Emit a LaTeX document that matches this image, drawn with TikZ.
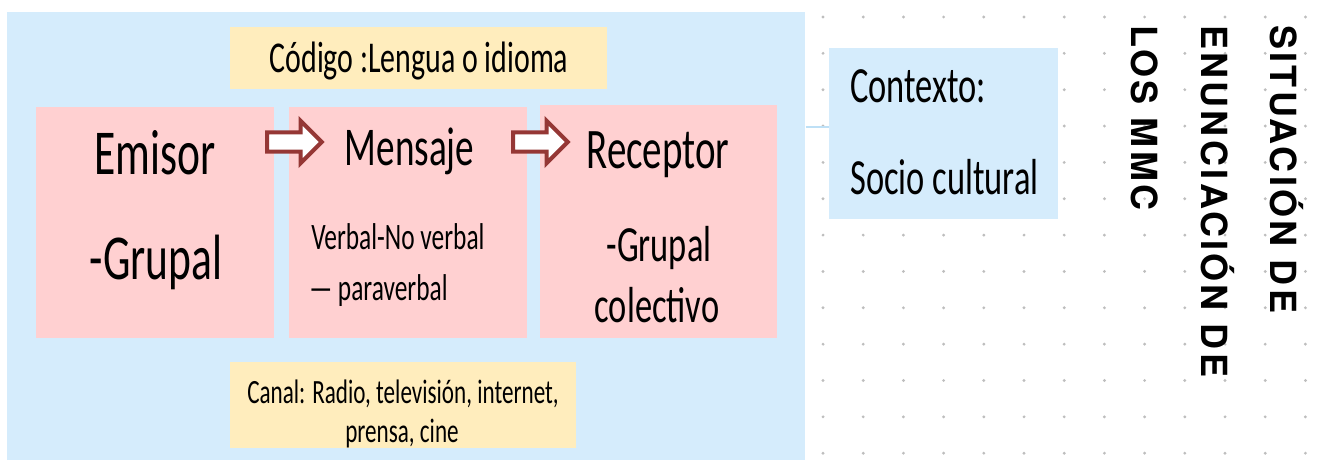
\documentclass[tikz,border=0pt]{standalone}
\usepackage{fontspec}
\setmainfont{Carlito}[FakeStretch=0.68]
\newfontfamily\titlefont{TeX Gyre Heros}[LetterSpace=9]
\usetikzlibrary{shapes.arrows,calc}

\begin{document}
\begin{tikzpicture}[x=0.75pt,y=-0.75pt]

	\definecolor{skyblue}{RGB}{213,236,252}
	\definecolor{rosebox}{RGB}{255,208,209}
	\definecolor{creambox}{RGB}{255,237,189}
	\definecolor{arrowred}{RGB}{149,55,53}
	\definecolor{dotgray}{RGB}{190,190,190}
	\definecolor{linkblue}{RGB}{190,224,246}

	\useasboundingbox (0,0) rectangle (1318,460);

	\tikzset{box/.style = {rectangle, inner sep=0pt, minimum width=#1*0.75pt}}
	\tikzset{word/.style = {inner sep=0pt, anchor=base, text=black}}
	\tikzset{flow/.style = {single arrow, draw=arrowred, fill=white, line width=3pt,
		inner xsep=0pt, inner ysep=5.8pt, minimum height=41pt, minimum width=29pt,
		single arrow head extend=8.6pt}}

	% dotted paper on the right
	\foreach \i in {0,...,12}
		\foreach \j in {0,...,12}
			\fill[dotgray] (823+40.2*\i, 17+36.35*\j) circle (1.2pt);

	\node[box=798, fill=skyblue, minimum height=448*0.75pt] (bg) at (406,236) {};

	\node[box=377, fill=creambox, minimum height=62*0.75pt] (codigo) at (418.5,58) {};
	\node[box=346, fill=creambox, minimum height=86*0.75pt] (canal) at (403,405) {};

	\node[box=238, fill=rosebox, minimum height=231*0.75pt] (emisor) at (155,222.5) {};
	\node[box=238, fill=rosebox, minimum height=231*0.75pt] (mensaje) at (408,222.5) {};
	\node[box=237, fill=rosebox, minimum height=233*0.75pt] (receptor) at (658.5,221.5) {};

	\node[box=229, fill=skyblue, minimum height=171*0.75pt] (contexto) at (943.5,133.5) {};
	\draw[linkblue, line width=1.2pt] ($(contexto.west)+(-23,-6.5)$) -- ($(contexto.west)+(0,-6.5)$);

	\node[flow] (arr1) at (289.5,142) {};
	\node[flow] (arr2) at (535.5,142) {};

	\node[word, font=\fontsize{33}{38}\selectfont] (codtxt) at (419,73) {Código :Lengua o idioma};

	\node[word, font=\fontsize{48}{56}\selectfont] (emtxt) at (155,174) {Emisor};
	\node[word, font=\fontsize{48}{56}\selectfont] (emgrp) at (156,279) {-Grupal};

	\node[word, font=\fontsize{41}{48}\selectfont] (mentxt) at (409.5,166) {Mensaje};
	\node[word, font=\fontsize{28}{34}\selectfont, anchor=base west] (verb1) at (311,249) {Verbal-No verbal};
	\node[word, font=\fontsize{28}{34}\selectfont, anchor=base west] (verb2) at (309,300) {--- paraverbal};

	\node[word, font=\fontsize{43}{50}\selectfont] (rectxt) at (658,168) {Receptor};
	\node[word, font=\fontsize{38}{44}\selectfont] (recgrp) at (659,261) {-Grupal};
	\node[word, font=\fontsize{38}{44}\selectfont] (reccol) at (657,322) {colectivo};

	\begin{scope}
		\clip (canal.south west) rectangle (canal.north east);
		\node[word, font=\fontsize{25.5}{31}\selectfont] (cantxt) at (403,403) {Canal: Radio, televisión, internet,};
		\node[word, font=\fontsize{25.5}{31}\selectfont] (canprn) at (402,442) {prensa, cine};
	\end{scope}

	\node[word, font=\fontsize{38}{44}\selectfont, anchor=base west] (ctx1) at (850,103) {Contexto:};
	\node[word, font=\fontsize{38}{44}\selectfont, anchor=base west] (ctx2) at (850,195) {Socio cultural};

	\node[inner sep=0pt, rotate=-90, anchor=north west, align=left,
		font=\titlefont\bfseries\fontsize{27}{52}\selectfont] (title) at (1304,25)
		{SITUACIÓN DE\\ENUNCIACIÓN DE\\LOS MMC};

\end{tikzpicture}
\end{document}
